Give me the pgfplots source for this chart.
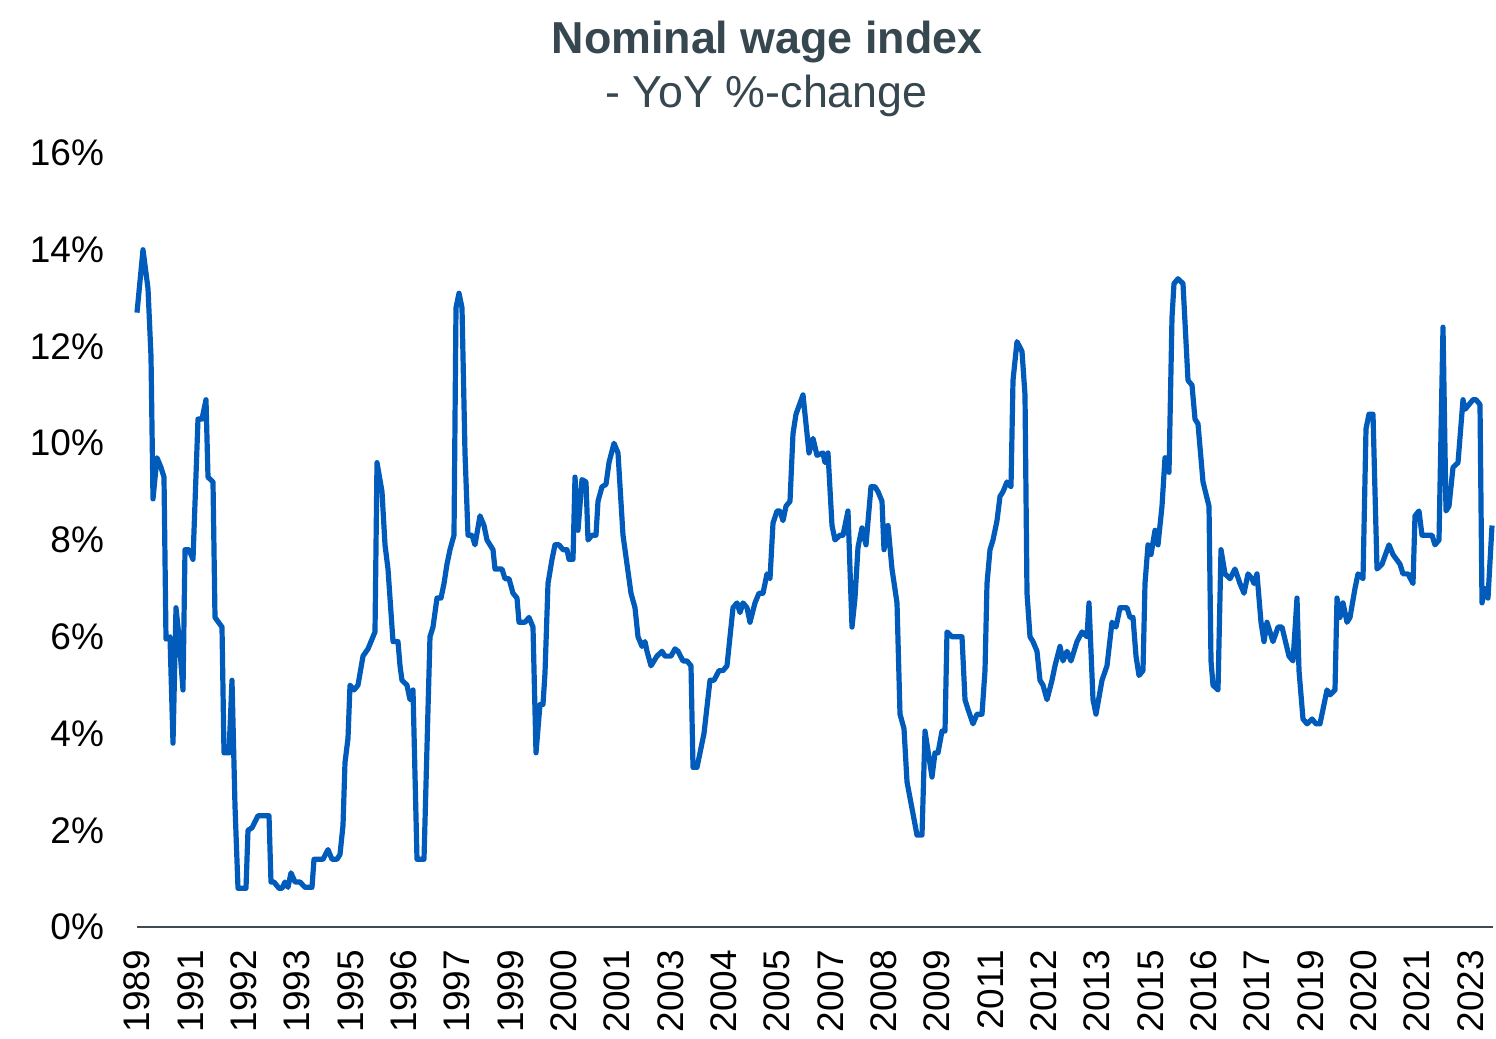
\documentclass[border=0pt]{standalone}
\usepackage{fontspec}
\setmainfont{Liberation Sans}
\usepackage{pgfplots}
\pgfplotsset{compat=1.18}
\definecolor{wageblue}{RGB}{0,91,187}
\definecolor{titlegray}{RGB}{55,71,79}
\definecolor{axisgray}{RGB}{64,74,82}

\pgfplotstableread{
px val
137 12.7
143 14.0
148 13.2
151 11.8
153 8.85
157 9.7
161 9.5
164 9.3
166 5.95
170 6.0
173 3.8
176 6.6
179 6.0
183 4.9
185 7.8
189 7.8
193 7.6
198 10.5
202 10.5
206 10.9
208 9.3
213 9.2
215 6.4
222 6.2
224 3.6
229 3.6
232 5.1
235 2.5
238 0.8
246 0.8
248 2.0
252 2.05
258 2.3
269 2.3
271 0.93
274 0.93
279 0.8
282 0.8
285 0.93
288 0.82
291 1.12
295 0.93
300 0.93
305 0.82
312 0.82
314 1.4
323 1.4
328 1.6
332 1.4
337 1.4
340 1.5
343 2.1
345 3.4
348 3.9
350 5.0
354 4.9
358 5.0
363 5.6
368 5.75
373 6.0
375 6.1
377 9.6
382 9.0
385 7.9
388 7.4
391 6.5
393 5.9
398 5.9
400 5.4
402 5.1
407 5.0
410 4.7
413 4.9
417 1.4
424 1.4
428 4.5
430 6.0
433 6.2
437 6.8
441 6.8
444 7.1
447 7.5
450 7.8
454 8.1
456 12.8
459 13.1
462 12.8
465 9.8
468 8.1
472 8.1
475 7.9
480 8.5
484 8.3
487 8.0
493 7.8
495 7.4
502 7.4
505 7.2
509 7.2
513 6.9
517 6.8
519 6.3
525 6.3
529 6.4
533 6.2
536 3.6
540 4.6
543 4.6
545 5.25
548 7.1
552 7.6
555 7.9
559 7.9
563 7.8
567 7.8
569 7.6
573 7.6
575 9.3
578 8.2
582 9.25
586 9.2
588 8.0
592 8.1
596 8.1
598 8.8
602 9.1
606 9.15
609 9.6
614 10.0
618 9.8
623 8.1
631 6.9
635 6.6
638 6.0
642 5.8
645 5.9
647 5.7
651 5.4
657 5.6
662 5.7
665 5.6
671 5.6
675 5.75
678 5.7
683 5.5
687 5.5
691 5.4
693 3.3
697 3.3
702 3.8
704 4.0
710 5.1
714 5.1
719 5.3
723 5.3
727 5.4
733 6.6
737 6.7
740 6.5
743 6.7
747 6.6
750 6.3
755 6.7
759 6.9
763 6.9
767 7.3
770 7.2
773 8.35
777 8.6
780 8.6
783 8.4
786 8.7
790 8.8
793 10.2
796 10.6
803 11.0
809 9.8
813 10.1
817 9.75
823 9.8
825 9.6
828 9.8
832 8.3
835 8.0
840 8.1
843 8.1
848 8.6
852 6.2
855 6.8
858 7.85
862 8.25
866 7.9
871 9.1
875 9.1
878 9.0
882 8.8
884 7.8
888 8.3
892 7.4
897 6.7
900 4.4
904 4.1
907 3.0
912 2.45
917 1.9
922 1.9
925 4.05
932 3.1
935 3.6
938 3.6
942 4.05
945 4.05
947 6.1
952 6.0
962 6.0
965 4.7
968 4.5
973 4.2
977 4.4
982 4.4
985 5.3
987 7.1
990 7.8
993 8.0
997 8.4
1000 8.9
1003 9.0
1007 9.2
1011 9.1
1013 11.3
1017 12.1
1022 11.9
1025 11.0
1027 6.9
1030 6.0
1033 5.9
1037 5.7
1040 5.1
1043 5.0
1047 4.7
1052 5.1
1055 5.4
1060 5.8
1063 5.5
1067 5.7
1071 5.5
1077 5.9
1082 6.1
1087 6.0
1089 6.7
1093 4.7
1096 4.4
1102 5.1
1107 5.4
1112 6.3
1116 6.2
1120 6.6
1127 6.6
1130 6.4
1133 6.4
1136 5.6
1139 5.2
1143 5.3
1145 7.1
1148 7.9
1151 7.7
1155 8.2
1158 7.9
1162 8.7
1165 9.7
1169 9.4
1172 12.6
1174 13.3
1178 13.4
1183 13.3
1185 12.5
1188 11.3
1192 11.2
1195 10.5
1198 10.4
1203 9.2
1209 8.7
1211 5.5
1213 5.0
1218 4.9
1221 7.8
1225 7.3
1230 7.2
1235 7.4
1240 7.1
1244 6.9
1248 7.3
1252 7.2
1254 7.1
1257 7.3
1261 6.3
1264 5.9
1267 6.3
1273 5.9
1278 6.2
1282 6.2
1289 5.6
1293 5.5
1297 6.8
1299 5.3
1303 4.3
1307 4.2
1312 4.3
1316 4.2
1320 4.2
1327 4.9
1330 4.8
1335 4.9
1337 6.8
1340 6.4
1343 6.7
1347 6.3
1350 6.4
1355 7.0
1358 7.3
1363 7.2
1366 10.3
1369 10.6
1373 10.6
1377 7.4
1382 7.5
1389 7.9
1393 7.7
1400 7.5
1403 7.3
1408 7.3
1413 7.1
1415 8.5
1419 8.6
1422 8.1
1427 8.1
1432 8.1
1435 7.9
1439 8.0
1443 12.4
1446 8.6
1449 8.7
1453 9.5
1458 9.6
1463 10.9
1465 10.7
1473 10.9
1476 10.9
1480 10.8
1482 6.7
1485 7.0
1488 6.8
1492 8.3
}\wagedata

\begin{document}
\begin{tikzpicture}
\useasboundingbox (0pt,0pt) rectangle (748pt,-519.5pt);
\node[anchor=base, font=\fontsize{22.4}{26}\selectfont\bfseries, text=titlegray] at (383.5pt,-26.5pt) {Nominal wage index};
\node[anchor=base, font=\fontsize{22.4}{26}\selectfont, text=titlegray] at (383.3pt,-53.5pt) {- YoY \%-change};
\begin{axis}[
  at={(68.5pt,-463.5pt)}, anchor=south west,
  scale only axis, width=678pt, height=387pt,
  xmin=137, xmax=1493, ymin=0, ymax=16,
  axis x line*=bottom, axis y line*=left,
  y axis line style={draw=none},
  x axis line style={draw=axisgray, line width=1pt, -},
  tick style={draw=none},
  ytick={0,2,...,16},
  yticklabels={0\%,2\%,4\%,6\%,8\%,10\%,12\%,14\%,16\%},
  xtick={137,190.333,243.667,297,350.333,403.667,457,510.333,563.667,617,670.333,723.667,777,830.333,883.667,937,990.333,1043.667,1097,1150.333,1203.667,1257,1310.333,1363.667,1417,1470.333},
  xticklabels={1989,1991,1992,1993,1995,1996,1997,1999,2000,2001,2003,2004,2005,2007,2008,2009,2011,2012,2013,2015,2016,2017,2019,2020,2021,2023},
  ticklabel style={font=\fontsize{18.5}{21}\selectfont, text=black},
  yticklabel style={anchor=east, xshift=-13pt},
  xticklabel style={yshift=-8pt, rotate=90, anchor=east},
  clip=false,
]
\addplot[wageblue, line width=2.6pt, line join=round] table[x=px, y=val] {\wagedata};
\end{axis}
\end{tikzpicture}
\end{document}
